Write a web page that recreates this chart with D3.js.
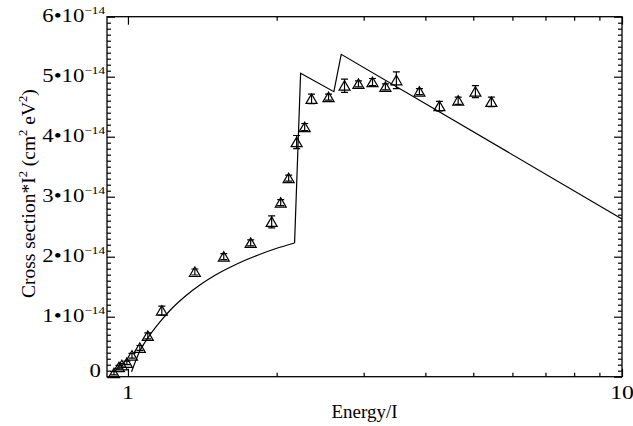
<!DOCTYPE html>
<html>
<head>
<meta charset="utf-8">
<script src="https://cdn.jsdelivr.net/npm/d3@7"></script>
<style>
  body { margin: 0; background: #fff; }
  svg { display: block; }
  text { font-family: "Liberation Serif", "DejaVu Serif", serif; fill: #000; }
</style>
</head>
<body>
<svg id="chart" width="633" height="426"></svg>
<script>
// measured points: energy in units of I, cross section * I^2 in units of 1e-14 cm^2 eV^2
var energy = [0.937, 0.959, 0.972, 0.995, 1.019, 1.057, 1.097, 1.171, 1.366, 1.563,
              1.772, 1.954, 2.038, 2.115, 2.195, 2.279, 2.353, 2.547, 2.744, 2.928,
              3.126, 3.32, 3.494, 3.89, 4.27, 4.66, 5.05, 5.44];
var sigma = [0.06, 0.16, 0.19, 0.23, 0.35, 0.48, 0.68, 1.10, 1.745, 2.0,
             2.23, 2.58, 2.90, 3.31, 3.91, 4.16, 4.63, 4.66, 4.85, 4.88,
             4.91, 4.83, 4.94, 4.75, 4.51, 4.60, 4.75, 4.58];
var sigma_err = [0.03, 0.03, 0.03, 0.03, 0.04, 0.04, 0.05, 0.075, 0.05, 0.05,
                 0.05, 0.1, 0.05, 0.05, 0.11, 0.06, 0.08, 0.05, 0.11, 0.05,
                 0.06, 0.05, 0.14, 0.05, 0.08, 0.06, 0.1, 0.08];

// model curve (smooth part up to the first edge, then straight pieces)
var model_energy = [1.017, 1.057, 1.108, 1.161, 1.216, 1.304, 1.398, 1.498, 1.606, 1.722,
                    1.846, 1.98, 2.174, 2.236, 2.611, 2.702, 10];
var model_sigma = [0.083, 0.428, 0.695, 0.912, 1.103, 1.337, 1.528, 1.687, 1.82, 1.937,
                   2.037, 2.128, 2.228, 5.057, 4.75, 5.373, 2.63];
var n_smooth = 13;

var y_ticks = [0, 1, 2, 3, 4, 5, 6];
var x_ticks = [1, 10];
var x_minor = [2, 3, 4, 5, 6, 7, 8, 9];

// plot frame (x0,x1 left/right, y0 bottom, y1 top)
var x0 = 107, x1 = 622, y0 = 376.7, y1 = 16.7;

var svg = d3.select("#chart");

var x = d3.scaleLog().domain([0.907, 10]).range([x0, x1]);
var y = d3.scaleLinear().domain([0, 6]).range([y0, y1]);

// ticks, all pointing inward, mirrored on the opposite sides
var y_minor = d3.range(0, 60).map(function(d){ return d / 10; }).filter(function(d){ return d % 1 != 0; });

function ticks(axis, scale, values, size){
    return axis(scale).tickValues(values).tickSize(size).tickSizeOuter(0).tickFormat("");
}
var axes = [
    [d3.axisBottom, x, x_ticks, -8, "translate(0," + y0 + ")"],
    [d3.axisBottom, x, x_minor, -4, "translate(0," + y0 + ")"],
    [d3.axisTop, x, x_ticks, -8, "translate(0," + y1 + ")"],
    [d3.axisTop, x, x_minor, -4, "translate(0," + y1 + ")"],
    [d3.axisLeft, y, y_ticks, -8, "translate(" + x0 + ",0)"],
    [d3.axisLeft, y, y_minor, -4, "translate(" + x0 + ",0)"],
    [d3.axisRight, y, y_ticks, -8, "translate(" + x1 + ",0)"],
    [d3.axisRight, y, y_minor, -4, "translate(" + x1 + ",0)"]
];
axes.forEach(function(a){
    var g = svg.append("g").attr("transform", a[4]).call(ticks(a[0], a[1], a[2], a[3]));
    g.select(".domain").remove();
    g.selectAll("line").attr("stroke", "#000").attr("stroke-width", 1.2);
});

svg.append("rect")
    .attr("x", x0).attr("y", y1)
    .attr("width", x1 - x0).attr("height", y0 - y1)
    .attr("fill", "none").attr("stroke", "#000").attr("stroke-width", 1.3);

// y tick labels  n•10^-14 (digits drawn a bit wide)
y_ticks.forEach(function(v){
    var g = svg.append("g");
    var t = g.append("text")
        .attr("text-anchor", "end")
        .style("font-size", "19px");
    if (v == 0) {
        g.attr("transform", "translate(101," + y(v) + ") scale(1.2,1)");
        t.text("0");
    } else {
        g.attr("transform", "translate(105," + (y(v) + 5) + ") scale(1.2,1)");
        t.append("tspan").text(v + "\u202210");
        t.append("tspan").attr("dy", -8).style("font-size", "11px").text("\u221214");
    }
});

// x tick labels
x_ticks.forEach(function(v){
    svg.append("text")
        .attr("transform", "translate(" + x(v) + ",399) scale(1.25,1)")
        .attr("text-anchor", "middle")
        .style("font-size", "19px")
        .text(v);
});

svg.append("text")
    .attr("x", (x0 + x1) / 2).attr("y", 418)
    .attr("text-anchor", "middle")
    .style("font-size", "19px")
    .text("Energy/I");

var ylab = svg.append("text")
    .attr("transform", "translate(35," + ((y0 + y1) / 2 - 3) + ") rotate(-90)")
    .attr("text-anchor", "middle")
    .style("font-size", "19.5px");
[["Cross section*I", 0], ["2", -8], [" (cm", 8], ["2", -8], [" eV", 8], ["2", -8], [")", 8]]
    .forEach(function(p){
        var s = ylab.append("tspan").attr("dy", p[1]).text(p[0]);
        if (p[1] < 0) s.style("font-size", "12.5px");
    });

// model curve
var pts = model_energy.map(function(d, i){ return [d, model_sigma[i]]; });
var smooth = d3.line()
    .x(function(d){ return x(d[0]); })
    .y(function(d){ return y(d[1]); })
    .curve(d3.curveMonotoneX);
var straight = d3.line()
    .x(function(d){ return x(d[0]); })
    .y(function(d){ return y(d[1]); });

svg.append("path")
    .attr("d", smooth(pts.slice(0, n_smooth)))
    .attr("fill", "none").attr("stroke", "#000").attr("stroke-width", 1.2);
svg.append("path")
    .attr("d", straight(pts.slice(n_smooth - 1)))
    .attr("fill", "none").attr("stroke", "#000").attr("stroke-width", 1.2);

// data points: open triangles with error bars
var points = svg.append("g").selectAll("g")
    .data(energy.map(function(d, i){ return {e: d, s: sigma[i], err: sigma_err[i]}; }))
    .enter()
    .append("g")
    .attr("transform", function(d){ return "translate(" + x(d.e) + "," + y(d.s) + ")"; });

points.append("path")
    .attr("d", function(d){
        var up = y(d.s + d.err) - y(d.s), dn = y(d.s - d.err) - y(d.s);
        return "M0," + up + "V" + dn + "M-3.5," + up + "H3.5M-3.5," + dn + "H3.5";
    })
    .attr("stroke", "#000").attr("stroke-width", 1.2).attr("fill", "none");

points.append("path")
    .attr("d", "M-5.5,4.5L0,-5L5.5,4.5Z")
    .attr("stroke", "#000").attr("stroke-width", 1.2).attr("fill", "none");
</script>
</body>
</html>
